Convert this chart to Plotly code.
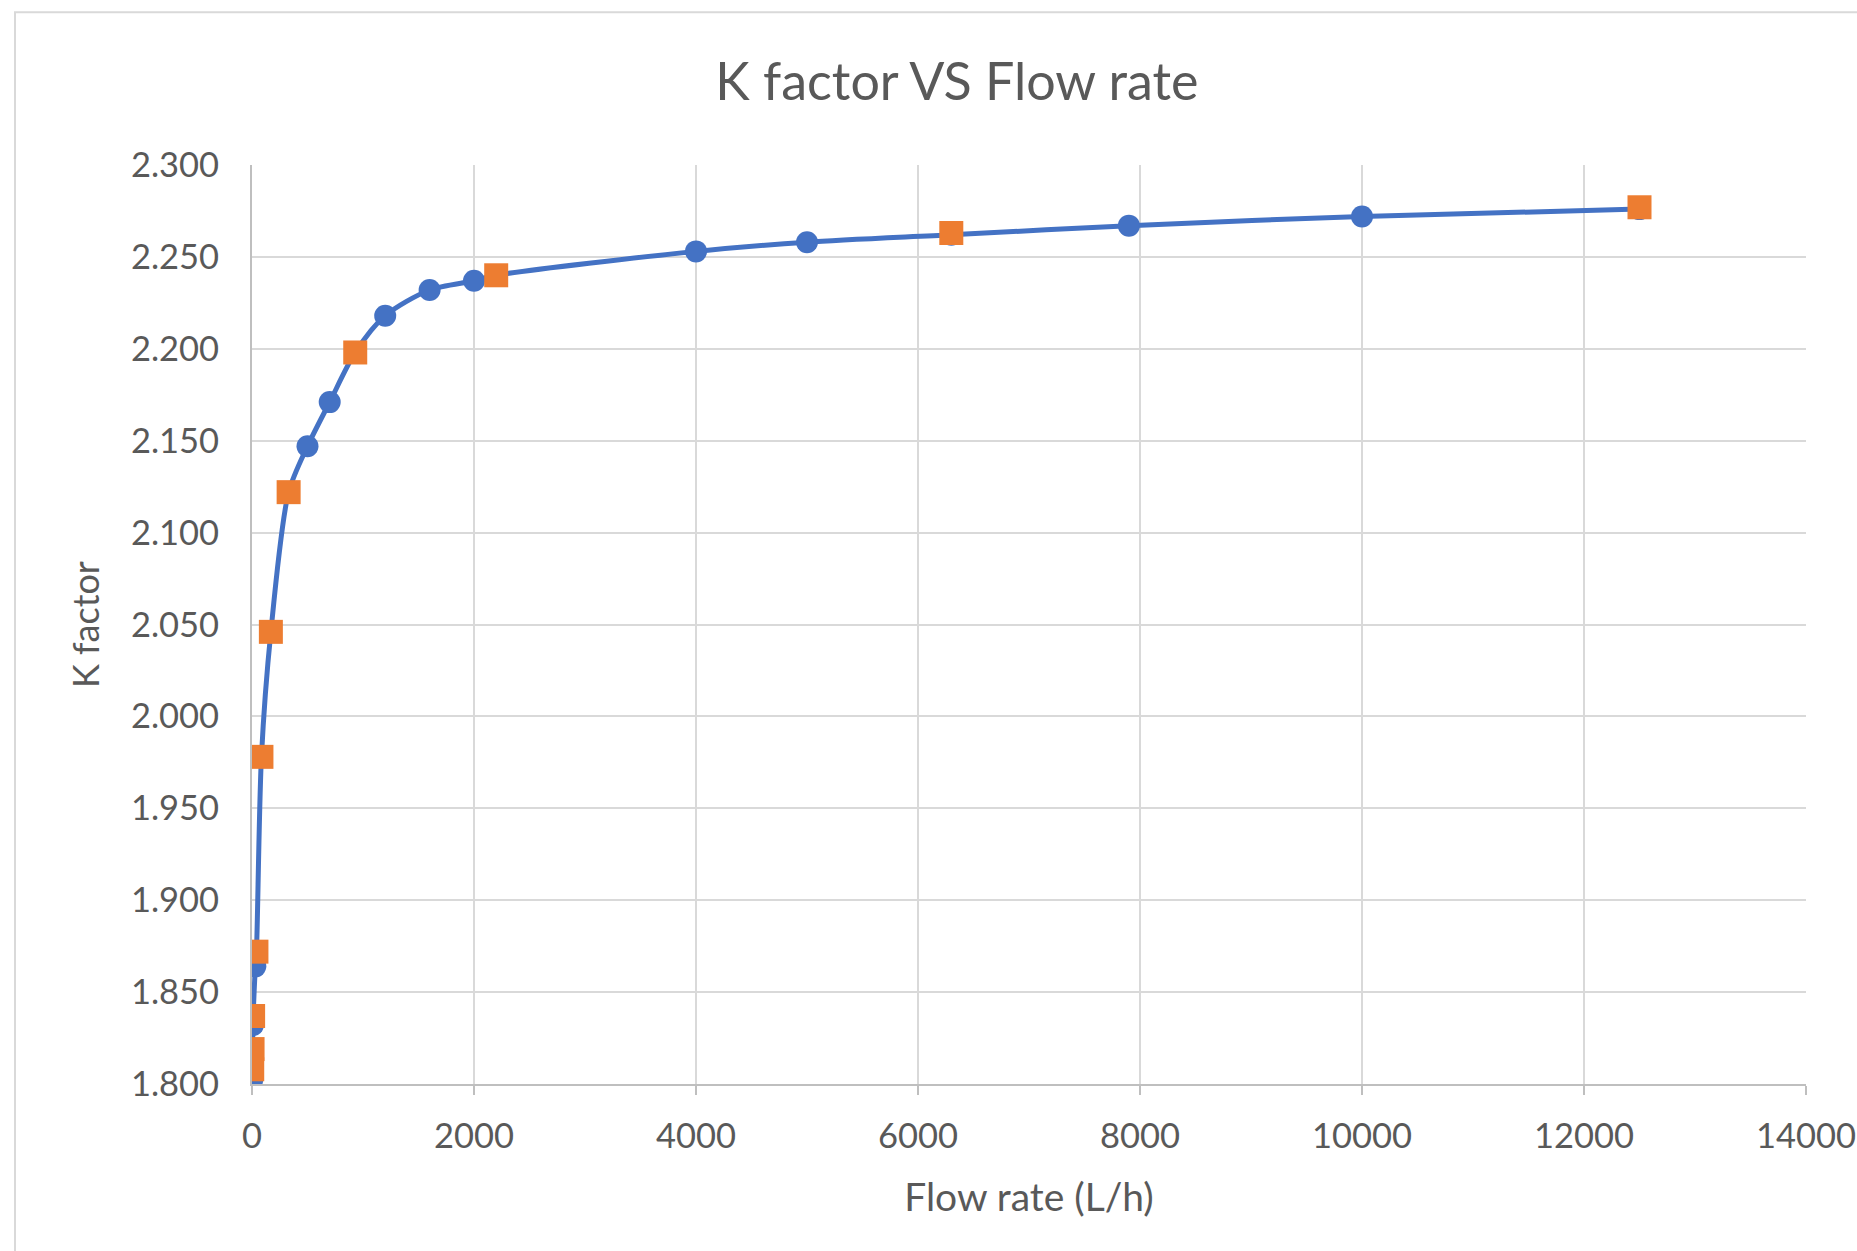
import plotly.graph_objects as go

# Data
blue_flow = [1, 4, 8, 30, 500, 700, 1200, 1600, 2000, 4000, 5000, 6300, 7900, 10000, 12500]
blue_k = [1.802, 1.818, 1.832, 1.864, 2.147, 2.171, 2.218, 2.232, 2.237, 2.253, 2.258, 2.262, 2.267, 2.272, 2.276]
orange_flow = [2, 5, 10, 40, 85, 170, 330, 930, 2200, 6300, 12500]
orange_k = [1.808, 1.819, 1.837, 1.872, 1.978, 2.046, 2.122, 2.198, 2.240, 2.263, 2.277]

x_ticks = [0, 2000, 4000, 6000, 8000, 10000, 12000, 14000]
y_ticks = [1.80, 1.85, 1.90, 1.95, 2.00, 2.05, 2.10, 2.15, 2.20, 2.25, 2.30]

# combined curve through all points (sorted, duplicates taken from blue)
pts = dict(zip(orange_flow, orange_k))
pts.update(dict(zip(blue_flow, blue_k)))
line_x = sorted(pts)
line_y = [pts[v] for v in line_x]

BLUE = "#4472c4"
ORANGE = "#ed7d31"
TXT = "#595959"
GRID = "#d9d9d9"
FONT = "Lato"

fig = go.Figure()
fig.add_trace(go.Scatter(x=line_x, y=line_y, mode="lines",
                         line=dict(color=BLUE, width=5, shape="spline", smoothing=0.8),
                         hoverinfo="skip", showlegend=False))
fig.add_trace(go.Scatter(x=blue_flow, y=blue_k, mode="markers",
                         marker=dict(color=BLUE, size=22, symbol="circle"),
                         showlegend=False))
fig.add_trace(go.Scatter(x=orange_flow, y=orange_k, mode="markers",
                         marker=dict(color=ORANGE, size=24, symbol="square"),
                         showlegend=False))

fig.update_layout(
    width=1857, height=1251,
    margin=dict(l=252, r=51, t=165, b=167, autoexpand=False),
    paper_bgcolor="white", plot_bgcolor="white",
    font=dict(family=FONT, color=TXT, size=34.5),
    title=dict(text="K factor VS Flow rate", x=0.5153, xref="container", xanchor="center",
               y=1 - 82 / 1251, yref="container", yanchor="middle",
               font=dict(family=FONT, size=52, color=TXT)),
    shapes=[dict(type="rect", xref="paper", yref="paper",
                 x0=(15 - 252) / 1554, x1=1.1, y0=-0.3, y1=1 + (165 - 12) / 920,
                 line=dict(color=GRID, width=2), fillcolor="rgba(0,0,0,0)", layer="below")],
)
fig.update_xaxes(range=[0, 14000], tickvals=x_ticks, ticktext=[str(v) for v in x_ticks],
                 showgrid=True, gridcolor=GRID, gridwidth=2, automargin=False,
                 showline=True, linecolor="#bfbfbf", linewidth=2,
                 ticks="outside", ticklen=9, tickcolor="#bfbfbf", tickwidth=2,
                 zeroline=False, ticklabelstandoff=12,
                 title=dict(text="Flow rate (L/h)", font=dict(size=39, color=TXT), standoff=29))
fig.update_yaxes(range=[1.8, 2.3], tickvals=y_ticks, tickformat=".3f",
                 showgrid=True, gridcolor=GRID, gridwidth=2, automargin=False,
                 showline=True, linecolor="#bfbfbf", linewidth=2,
                 ticks="", zeroline=False, ticklabelstandoff=24,
                 title=dict(text="K factor", font=dict(size=36, color=TXT), standoff=20))

fig.write_html("out.html")
